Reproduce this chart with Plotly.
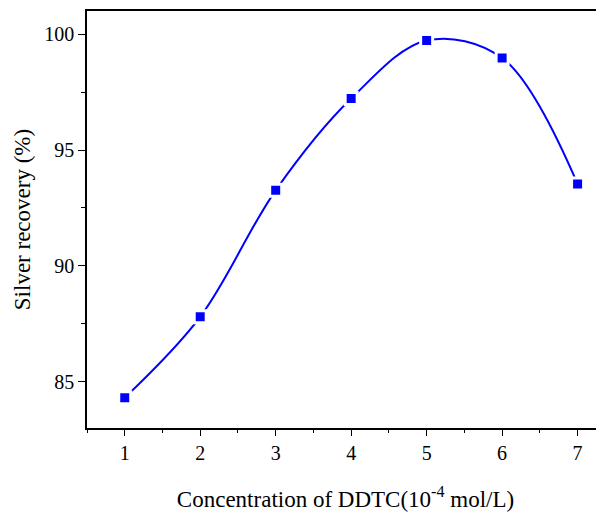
import plotly.graph_objects as go

concentration = [1, 2, 3, 4, 5, 6, 7]
recovery = [84.31, 87.8, 93.26, 97.22, 99.73, 98.97, 93.53]
x_ticks = [1, 2, 3, 4, 5, 6, 7]
y_ticks = [85, 90, 95, 100]

FONT = "Liberation Serif, Times New Roman, serif"

fig = go.Figure()
fig.add_trace(go.Scatter(
    x=concentration, y=recovery, mode="lines+markers",
    line=dict(color="#0000ff", width=2, shape="spline", smoothing=1.0),
    marker=dict(symbol="square", size=12, color="#0000ff",
                line=dict(color="white", width=3)),
    showlegend=False, cliponaxis=False,
))

# page body adds an 8px margin, so the figure is sized/placed to compensate
fig.update_layout(
    width=596, height=506,
    margin=dict(l=79, r=0, t=3, b=86, autoexpand=False),
    plot_bgcolor="white", paper_bgcolor="white",
    font=dict(family=FONT, size=20, color="black"),
    xaxis=dict(
        range=[0.5, 7.35], tickvals=x_ticks, ticktext=[str(v) for v in x_ticks],
        showgrid=False, zeroline=False, automargin=False,
        showline=True, linecolor="black", linewidth=1.5, mirror=True,
        ticks="outside", ticklen=6, tickwidth=1.2, tickcolor="black",
        minor=dict(dtick=0.5, ticks="outside", ticklen=3, tickwidth=1.2, tickcolor="black"),
        tickfont=dict(family=FONT, size=20),
        title=dict(text="Concentration of DDTC(10<sup>-4</sup> mol/L)",
                   font=dict(family=FONT, size=23), standoff=28),
    ),
    yaxis=dict(
        range=[83, 101], tickvals=y_ticks, ticktext=[str(v) for v in y_ticks],
        showgrid=False, zeroline=False, automargin=False,
        showline=True, linecolor="black", linewidth=1.5,
        ticks="outside", ticklen=7, tickwidth=1.2, tickcolor="black",
        minor=dict(dtick=2.5, ticks="outside", ticklen=4, tickwidth=1.2, tickcolor="black"),
        tickfont=dict(family=FONT, size=20),
        title=dict(text="Silver recovery (%)", font=dict(family=FONT, size=23), standoff=7),
    ),
)

fig.write_html("out.html")
